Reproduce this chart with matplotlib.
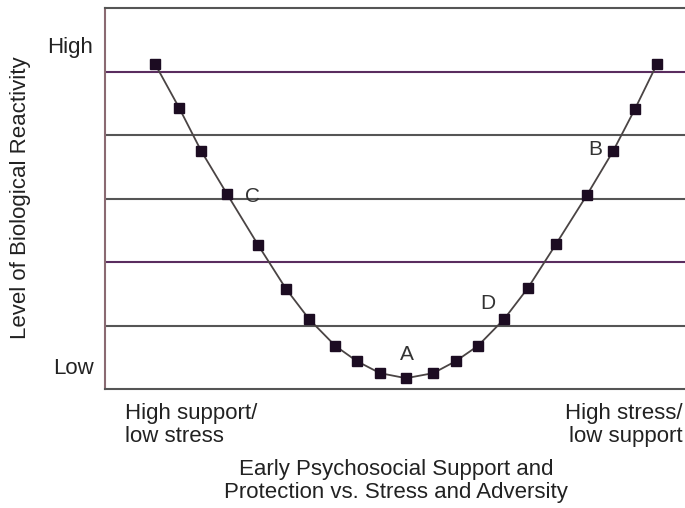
import matplotlib
matplotlib.use('Agg')
import matplotlib.pyplot as plt

plt.rcParams['font.family'] = ['Liberation Sans', 'DejaVu Sans']

# curve points (x: support -> stress, y: reactivity)
x_vals = [8.6, 12.8, 16.6, 21.0, 26.4, 31.2, 35.2, 39.7, 43.4, 47.4, 51.9,
          56.6, 60.5, 64.3, 68.8, 72.9, 77.8, 83.1, 87.6, 91.4, 95.2]
y_vals = [5.13, 4.43, 3.75, 3.08, 2.27, 1.58, 1.10, 0.68, 0.44, 0.25, 0.17,
          0.25, 0.44, 0.68, 1.10, 1.59, 2.29, 3.06, 3.75, 4.42, 5.13]

point_labels = ['A', 'B', 'C', 'D']
label_x = [52.0, 84.5, 25.5, 66.0]
label_y = [0.54, 3.78, 3.03, 1.34]

level_lines = [1, 2, 3, 4, 5]
level_colors = ['#555555', '#5a2d5f', '#555555', '#555555', '#5a2d5f']

FS = 16


def main():
    fig = plt.figure(figsize=(6.85, 5.08), dpi=100)
    ax = fig.add_axes([0.1533, 0.2343, 0.8467, 0.749])

    for lv, c in zip(level_lines, level_colors):
        ax.axhline(lv, color=c, lw=1.5, zorder=1)

    ax.plot(x_vals, y_vals, color='#4a4444', lw=1.3, zorder=2,
            marker='s', markersize=6.5, markerfacecolor='#1c0c22',
            markeredgecolor='#1c0c22')

    for t, lx, ly in zip(point_labels, label_x, label_y):
        ax.text(lx, ly, t, fontsize=15, color='#333333',
                ha='center', va='center')

    ax.set_xlim(0, 100)
    ax.set_ylim(0, 6)
    ax.set_xticks([])
    ax.set_yticks([])
    ax.spines['right'].set_visible(False)
    ax.spines['left'].set_color('#8a6a72')
    ax.spines['top'].set_color('#555555')
    ax.spines['bottom'].set_color('#555555')
    for s in ['left', 'top', 'bottom']:
        ax.spines[s].set_linewidth(1.5)

    ax.text(-2.0, 5.39, 'High', fontsize=FS, ha='right', va='center',
            color='#222222', clip_on=False)
    ax.text(-2.0, 0.32, 'Low', fontsize=FS, ha='right', va='center',
            color='#222222', clip_on=False)

    fig.text(0.03, 0.61, 'Level of Biological Reactivity', rotation=90,
             fontsize=FS, ha='center', va='center', color='#222222')
    fig.text(0.182, 0.163, 'High support/\nlow stress', fontsize=FS,
             ha='left', va='center', color='#222222', linespacing=1.1)
    fig.text(0.997, 0.163, 'High stress/\nlow support', fontsize=FS,
             ha='right', va='center', color='#222222', linespacing=1.1)
    fig.text(0.578, 0.053, 'Early Psychosocial Support and\n'
             'Protection vs. Stress and Adversity', fontsize=FS,
             ha='center', va='center', color='#222222', linespacing=1.1)

    fig.savefig('out.png', dpi=100)


if __name__ == "__main__":
    main()
